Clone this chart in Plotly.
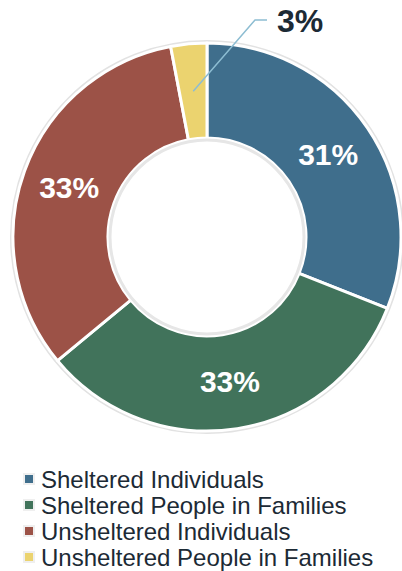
import math
import plotly.graph_objects as go

# Point-in-time count shares by household type (percent)
categories = [
    "Sheltered Individuals",
    "Sheltered People in Families",
    "Unsheltered Individuals",
    "Unsheltered People in Families",
]
shares = [31, 33, 33, 3]
colors = ["#3f6e8c", "#41735b", "#9c5247", "#ebd36f"]

W, H = 402, 571
CX, CY = 207, 237          # donut centre (px, from top-left)
R_OUT, R_IN = 194, 99      # outer / hole radius (px)
TEXT_DARK = "#1c2a35"
FONT = "Liberation Sans, Arial, sans-serif"


def px(x):
    return x / W


def py(y):
    return 1 - y / H


fig = go.Figure()

# main donut; the small slice is labelled outside with a leader line
fig.add_trace(go.Pie(
    labels=categories,
    values=shares,
    sort=False,
    direction="clockwise",
    rotation=0,
    hole=R_IN / R_OUT,
    marker=dict(colors=colors, line=dict(color="white", width=3)),
    texttemplate="%{percent:.0%}",
    textposition=["inside", "inside", "inside", "none"],
    insidetextorientation="horizontal",
    insidetextfont=dict(family=FONT, size=30, color="white", weight="bold"),
    domain=dict(x=[px(CX - R_OUT), min(1, px(CX + R_OUT))],
                y=[py(CY + R_OUT), py(CY - R_OUT)]),
    showlegend=False,
))

# soft grey rims on the outer edge and around the hole
fig.add_shape(type="circle", xref="paper", yref="paper", layer="below",
              x0=px(CX - R_OUT - 1.5), x1=px(CX + R_OUT + 1.5),
              y0=py(CY + R_OUT + 1.5), y1=py(CY - R_OUT - 1.5),
              line=dict(color="#e2e2e2", width=3))
fig.add_shape(type="circle", xref="paper", yref="paper", layer="above",
              x0=px(CX - R_IN + 2), x1=px(CX + R_IN - 2),
              y0=py(CY + R_IN - 2), y1=py(CY - R_IN + 2),
              line=dict(color="#e6e6e6", width=3))

# leader line for the last slice, starting at its mid-angle
total = sum(shares)
mid_frac = (sum(shares[:-1]) + shares[-1] / 2) / total
theta = 2 * math.pi * mid_frac
r_mid = (R_OUT + R_IN) / 2
sx = CX + r_mid * math.sin(theta)
sy = CY - r_mid * math.cos(theta)
elbow = (255, 20)
tail = (267, 20)
fig.add_shape(
    type="path",
    path=f"M {px(sx)},{py(sy)} L {px(elbow[0])},{py(elbow[1])} L {px(tail[0])},{py(tail[1])}",
    xref="paper", yref="paper",
    line=dict(color="#8dbdd2", width=1.5),
)
fig.add_annotation(
    x=px(tail[0] + 8), y=py(21), xref="paper", yref="paper",
    xanchor="left", yanchor="middle", showarrow=False,
    text=f"{round(100 * shares[-1] / total)}%",
    font=dict(family=FONT, size=32, color=TEXT_DARK, weight="bold"),
)

# legend: small swatches with labels stacked below the donut
row0, row_gap = 479, 26
for i, (name, col) in enumerate(zip(categories, colors)):
    yc = row0 + i * row_gap
    fig.add_shape(type="rect", xref="paper", yref="paper",
                  x0=px(23), x1=px(35), y0=py(yc + 6), y1=py(yc - 6),
                  fillcolor="#efefef", line=dict(width=0))
    fig.add_shape(type="rect", xref="paper", yref="paper",
                  x0=px(25), x1=px(33), y0=py(yc + 4), y1=py(yc - 4),
                  fillcolor=col, line=dict(width=0))
    fig.add_annotation(
        x=px(39), y=py(yc), xref="paper", yref="paper",
        xanchor="left", yanchor="middle", showarrow=False,
        text=name, font=dict(family=FONT, size=24, color=TEXT_DARK),
    )

fig.update_layout(
    width=W, height=H,
    margin=dict(l=0, r=0, t=0, b=0),
    paper_bgcolor="white", plot_bgcolor="white",
    showlegend=False,
)

fig.write_html("out.html")
